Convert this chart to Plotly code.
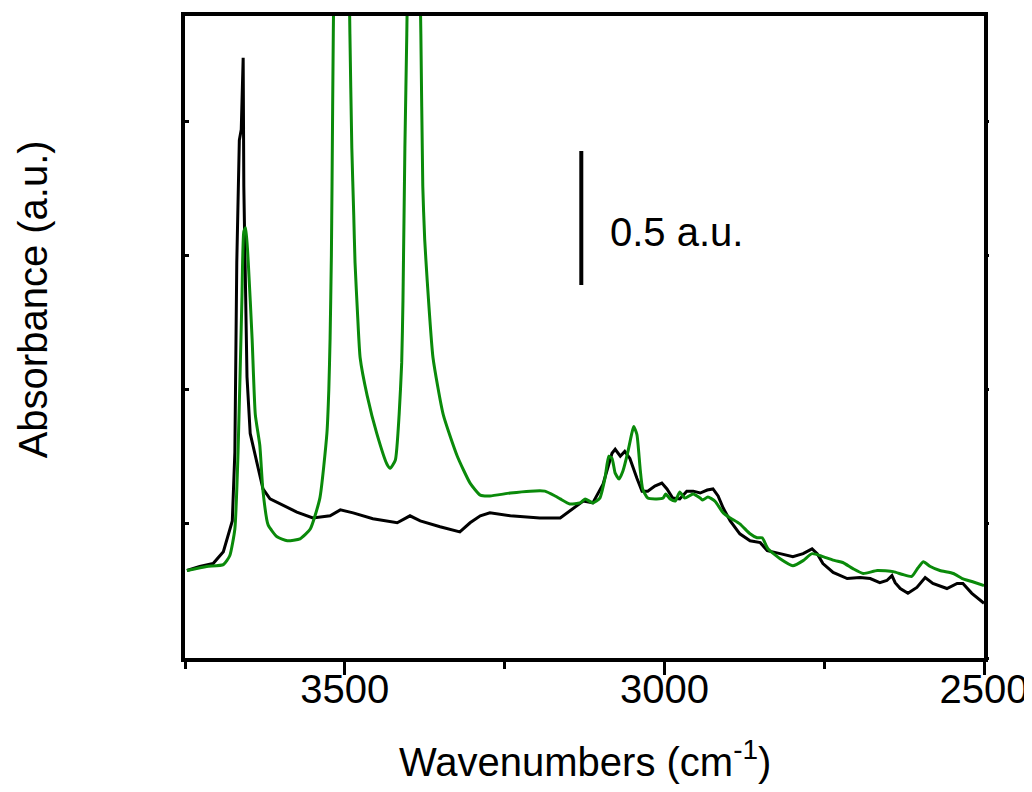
import plotly.graph_objects as go

# ---- data (wavenumber in cm^-1, absorbance in a.u.) ----
black_wn = [3747, 3727, 3706, 3690, 3676, 3672, 3669, 3665, 3662, 3659, 3658, 3653, 3648, 3637, 3628,
            3617, 3601, 3575, 3550, 3523, 3507, 3487, 3456, 3418, 3398, 3382, 3351, 3320, 3304, 3288,
            3273, 3241, 3195, 3163, 3127, 3112, 3096, 3082, 3077, 3069, 3062, 3054, 3043, 3035, 3026,
            3015, 3004, 2996, 2987, 2976, 2965, 2955, 2944, 2933, 2924, 2916, 2908, 2897, 2882, 2866,
            2850, 2839, 2819, 2799, 2783, 2769, 2761, 2752, 2736, 2714, 2694, 2678, 2663, 2652, 2644,
            2639, 2631, 2619, 2605, 2592, 2580, 2558, 2542, 2533, 2519, 2500]
black_abs = [0.326, 0.341, 0.352, 0.396, 0.511, 0.767, 1.474, 1.930, 1.970, 2.237, 1.759, 1.048, 0.837, 0.722, 0.630,
             0.593, 0.574, 0.544, 0.522, 0.530, 0.552, 0.541, 0.519, 0.504, 0.530, 0.511, 0.489, 0.470, 0.504, 0.530,
             0.541, 0.530, 0.522, 0.522, 0.585, 0.578, 0.648, 0.763, 0.778, 0.752, 0.770, 0.744, 0.670, 0.622, 0.622,
             0.641, 0.652, 0.630, 0.596, 0.593, 0.622, 0.622, 0.615, 0.626, 0.630, 0.604, 0.559, 0.511, 0.463, 0.437,
             0.430, 0.400, 0.389, 0.378, 0.389, 0.407, 0.389, 0.352, 0.319, 0.296, 0.300, 0.296, 0.281, 0.289, 0.307,
             0.281, 0.259, 0.241, 0.263, 0.300, 0.278, 0.259, 0.278, 0.278, 0.241, 0.204]

green_wn = [3747, 3716, 3690, 3680, 3672, 3667, 3661, 3658, 3655, 3651, 3645, 3640, 3633, 3628, 3620,
            3606, 3590, 3570, 3554, 3539, 3528, 3525, 3523, 3521, 3520, 3518, 3506, 3492, 3489, 3486,
            3484, 3480, 3476, 3465, 3450, 3434, 3429, 3421, 3415, 3411, 3409, 3406, 3403, 3393, 3381,
            3378, 3375, 3371, 3362, 3346, 3324, 3304, 3288, 3273, 3241, 3210, 3187, 3171, 3163, 3148,
            3132, 3124, 3112, 3101, 3093, 3087, 3082, 3077, 3071, 3065, 3057, 3051, 3048, 3043, 3038,
            3034, 3026, 3012, 3002, 2998, 2991, 2983, 2976, 2968, 2955, 2944, 2940, 2932, 2921, 2908,
            2897, 2882, 2866, 2855, 2847, 2838, 2819, 2799, 2783, 2769, 2752, 2733, 2721, 2705, 2689,
            2667, 2642, 2627, 2613, 2603, 2595, 2584, 2569, 2548, 2534, 2519, 2500]
green_abs = [0.326, 0.341, 0.348, 0.381, 0.481, 0.767, 1.333, 1.589, 1.604, 1.474, 1.189, 0.907, 0.793, 0.622, 0.496,
             0.452, 0.437, 0.444, 0.481, 0.596, 0.837, 1.000, 1.193, 1.500, 1.759, 2.326, 4.5, 2.326, 1.900, 1.650,
             1.474, 1.280, 1.119, 0.978, 0.837, 0.722, 0.707, 0.737, 0.907, 1.100, 1.333, 1.900, 2.326, 4.0, 2.326,
             1.759, 1.560, 1.404, 1.119, 0.907, 0.752, 0.652, 0.607, 0.604, 0.615, 0.622, 0.622, 0.604, 0.593, 0.574,
             0.578, 0.593, 0.578, 0.596, 0.670, 0.752, 0.744, 0.689, 0.667, 0.696, 0.770, 0.837, 0.863, 0.833, 0.707,
             0.630, 0.596, 0.593, 0.596, 0.611, 0.593, 0.585, 0.619, 0.596, 0.611, 0.596, 0.589, 0.600, 0.585, 0.541,
             0.522, 0.500, 0.463, 0.448, 0.448, 0.407, 0.370, 0.344, 0.363, 0.389, 0.378, 0.363, 0.356, 0.333, 0.315,
             0.326, 0.322, 0.311, 0.304, 0.337, 0.359, 0.341, 0.326, 0.315, 0.296, 0.285, 0.270]

x_range = [3750, 2500]
y_range = [0, 2.393]
y_tickvals = [0, 0.5, 1.0, 1.5, 2.0]
x_tickvals = [3500, 3000, 2500]
x_minor_tickvals = [3750, 3250, 2750]

scale_bar_x = 3130
scale_bar_y0 = 1.39
scale_bar_len = 0.5
scale_bar_label = "0.5 a.u."

FONT = "Liberation Sans, Arial, sans-serif"
FS = 40
GREEN = "#0a8a0a"

fig = go.Figure()
fig.add_trace(go.Scatter(x=black_wn, y=black_abs, mode="lines",
                         line=dict(color="black", width=3), showlegend=False))
fig.add_trace(go.Scatter(x=green_wn, y=green_abs, mode="lines", yaxis="y2",
                         line=dict(color=GREEN, width=3, shape="spline", smoothing=0.5),
                         showlegend=False))

# scale bar
fig.add_shape(type="line", xref="x", yref="y",
              x0=scale_bar_x, x1=scale_bar_x,
              y0=scale_bar_y0, y1=scale_bar_y0 + scale_bar_len,
              line=dict(color="black", width=4))
fig.add_annotation(x=scale_bar_x, y=scale_bar_y0 + scale_bar_len / 2, xref="x", yref="y",
                   text=scale_bar_label, showarrow=False, xanchor="left", yanchor="middle",
                   xshift=27, yshift=-14, font=dict(family=FONT, size=FS, color="black"))

# axis titles
fig.add_annotation(x=0.5, y=-0.158, xref="paper", yref="paper",
                   text="Wavenumbers (cm<sup>-1</sup>)", showarrow=False,
                   xanchor="center", yanchor="middle",
                   font=dict(family=FONT, size=FS, color="black"))
fig.add_annotation(x=-0.19, y=0.559, xref="paper", yref="paper",
                   text="Absorbance (a.u.)", showarrow=False, textangle=-90,
                   xanchor="center", yanchor="middle",
                   font=dict(family=FONT, size=FS, color="black"))

# the page body adds an 8 px offset, so the figure is sized and margined for that
fig.update_layout(
    width=1024, height=784,
    margin=dict(l=177, r=48, t=4, b=134),
    paper_bgcolor="white", plot_bgcolor="white",
    xaxis=dict(range=x_range, tickvals=x_tickvals, ticks="outside", ticklen=13, tickwidth=3,
               tickcolor="black", showline=True, linewidth=4, linecolor="black", mirror=True,
               showgrid=False, zeroline=False, ticklabeloverflow="allow", ticklabelstandoff=-20,
               minor=dict(tickvals=x_minor_tickvals, ticks="outside", ticklen=7, tickwidth=3,
                          tickcolor="black", showgrid=False),
               tickfont=dict(family=FONT, size=FS, color="black")),
    yaxis=dict(range=y_range, tickvals=y_tickvals, ticks="inside", ticklen=4, tickwidth=3,
               tickcolor="black", showticklabels=False, showline=True, linewidth=4,
               linecolor="black", mirror=True, showgrid=False, zeroline=False),
    yaxis2=dict(range=y_range, tickvals=y_tickvals, overlaying="y", side="right", anchor="x",
                ticks="outside", ticklen=4, tickwidth=3, tickcolor="black",
                showticklabels=False, showline=False, showgrid=False, zeroline=False),
)

fig.write_html("out.html")
